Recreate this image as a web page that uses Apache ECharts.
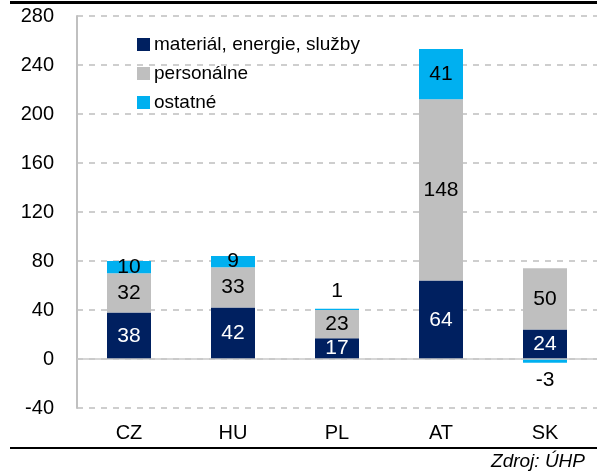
<!DOCTYPE html>
<html>
<head>
<meta charset="utf-8">
<script src="https://cdn.jsdelivr.net/npm/echarts@6/dist/echarts.min.js"></script>
<style>
  html, body { margin: 0; padding: 0; background: #fff; }
  #chart { width: 597px; height: 475px; }
</style>
</head>
<body>
<div id="chart"></div>
<script>
var dom = document.getElementById("chart");
var myChart = echarts.init(dom);

var categories = ['CZ', 'HU', 'PL', 'AT', 'SK'];
var material = [38, 42, 17, 64, 24];
var personal = [32, 33, 23, 148, 50];
var other = [10, 9, 1, 41, -3];
var seriesNames = ['materiál, energie, služby', 'personálne', 'ostatné'];

var font = 'Liberation Sans, Arial, sans-serif';

// small values get their label outside the bar
var otherData = other.map(function (v) {
    if (Math.abs(v) < 5) {
        return { value: v, label: { position: v < 0 ? 'bottom' : 'top', distance: 7 } };
    }
    return v;
});

var option = {
    animation: false,
    textStyle: { fontFamily: font },
    grid: { left: 77, right: 0, top: 16, bottom: 67 },
    legend: {
        orient: 'vertical',
        left: 132,
        top: 30,
        itemWidth: 13,
        itemHeight: 13,
        itemGap: 10,
        icon: 'rect',
        textStyle: { fontSize: 19, color: '#000', fontFamily: font, padding: [0, 0, 0, -1] },
        data: seriesNames
    },
    xAxis: {
        type: 'category',
        data: categories,
        axisLine: { show: false },
        axisTick: { show: false },
        axisLabel: { fontSize: 20, color: '#000', margin: 15 }
    },
    yAxis: {
        type: 'value',
        min: -40,
        max: 280,
        interval: 40,
        axisLine: { show: true, lineStyle: { color: '#c0c0c0', width: 2 } },
        axisTick: { show: false },
        axisLabel: { fontSize: 20, color: '#000', margin: 23 },
        splitLine: { lineStyle: { color: '#bfbfbf', type: [6, 6], width: 1.5 } }
    },
    series: [
        {
            name: seriesNames[0],
            type: 'bar',
            stack: 'total',
            barWidth: 44,
            itemStyle: { color: '#002060' },
            label: { show: true, position: 'inside', color: '#fff', fontSize: 21 },
            data: material,
            markLine: {
                silent: true,
                symbol: 'none',
                label: { show: false },
                lineStyle: { color: '#c8c8c8', type: 'solid', width: 1.5 },
                data: [{ yAxis: 0 }]
            }
        },
        {
            name: seriesNames[1],
            type: 'bar',
            stack: 'total',
            barWidth: 44,
            itemStyle: { color: '#bfbfbf' },
            label: { show: true, position: 'inside', color: '#000', fontSize: 21 },
            data: personal
        },
        {
            name: seriesNames[2],
            type: 'bar',
            stack: 'total',
            barWidth: 44,
            itemStyle: { color: '#00b0f0' },
            label: { show: true, position: 'inside', color: '#000', fontSize: 21 },
            data: otherData
        }
    ],
    graphic: [
        { type: 'rect', shape: { x: 10, y: 1, width: 587, height: 3 }, style: { fill: '#000' } },
        { type: 'rect', shape: { x: 10, y: 447, width: 587, height: 2 }, style: { fill: '#000' } },
        {
            type: 'text', right: 12, top: 452,
            style: { text: 'Zdroj: ÚHP', font: 'italic 19px ' + font, fill: '#000' }
        }
    ]
};

if (option && typeof option === 'object') {
    myChart.setOption(option);
}
</script>
</body>
</html>
